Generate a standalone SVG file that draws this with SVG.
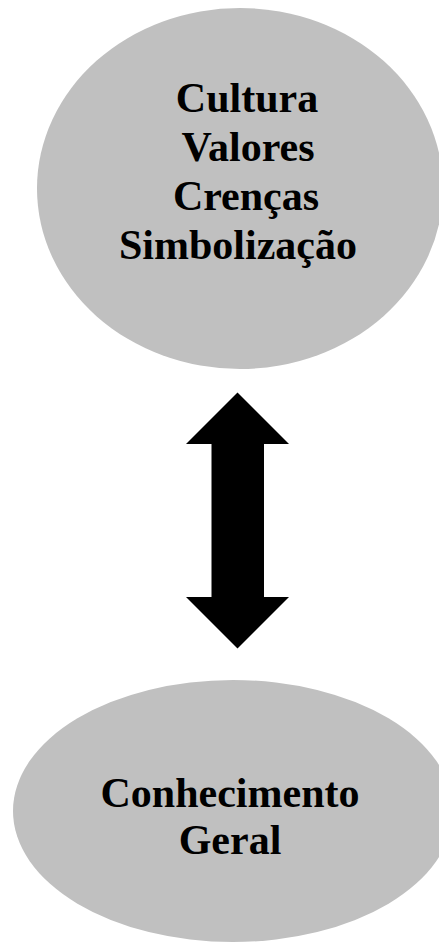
<svg xmlns="http://www.w3.org/2000/svg" width="439" height="945" viewBox="0 0 439 945">
<style>
.node{fill:#c0c0c0;stroke:none}
.lbl{font-family:"Liberation Serif","Times New Roman",serif;font-weight:bold;font-size:42px;fill:#000;text-anchor:middle}
.arrow{fill:#000;stroke:none}
</style>
<rect width="439" height="945" fill="#fff"/>
<g id="node-cultura">
<ellipse class="node" cx="240" cy="188.5" rx="203" ry="180.5"/>
<text class="lbl" x="247" y="112">Cultura</text>
<text class="lbl" x="248" y="161">Valores</text>
<text class="lbl" x="246" y="210">Crenças</text>
<text class="lbl" x="238" y="259">Simbolização</text>
</g>
<g id="node-conhecimento">
<ellipse class="node" cx="233" cy="811" rx="220" ry="131"/>
<text class="lbl" x="230" y="807">Conhecimento</text>
<text class="lbl" x="230" y="854">Geral</text>
</g>
<g id="connectors">
<polygon class="arrow" points="237.5,392.5 289,444 264,444 264,597 289,597 237.5,648.5 186,597 211.5,597 211.5,444 186,444"/>
</g>
</svg>
